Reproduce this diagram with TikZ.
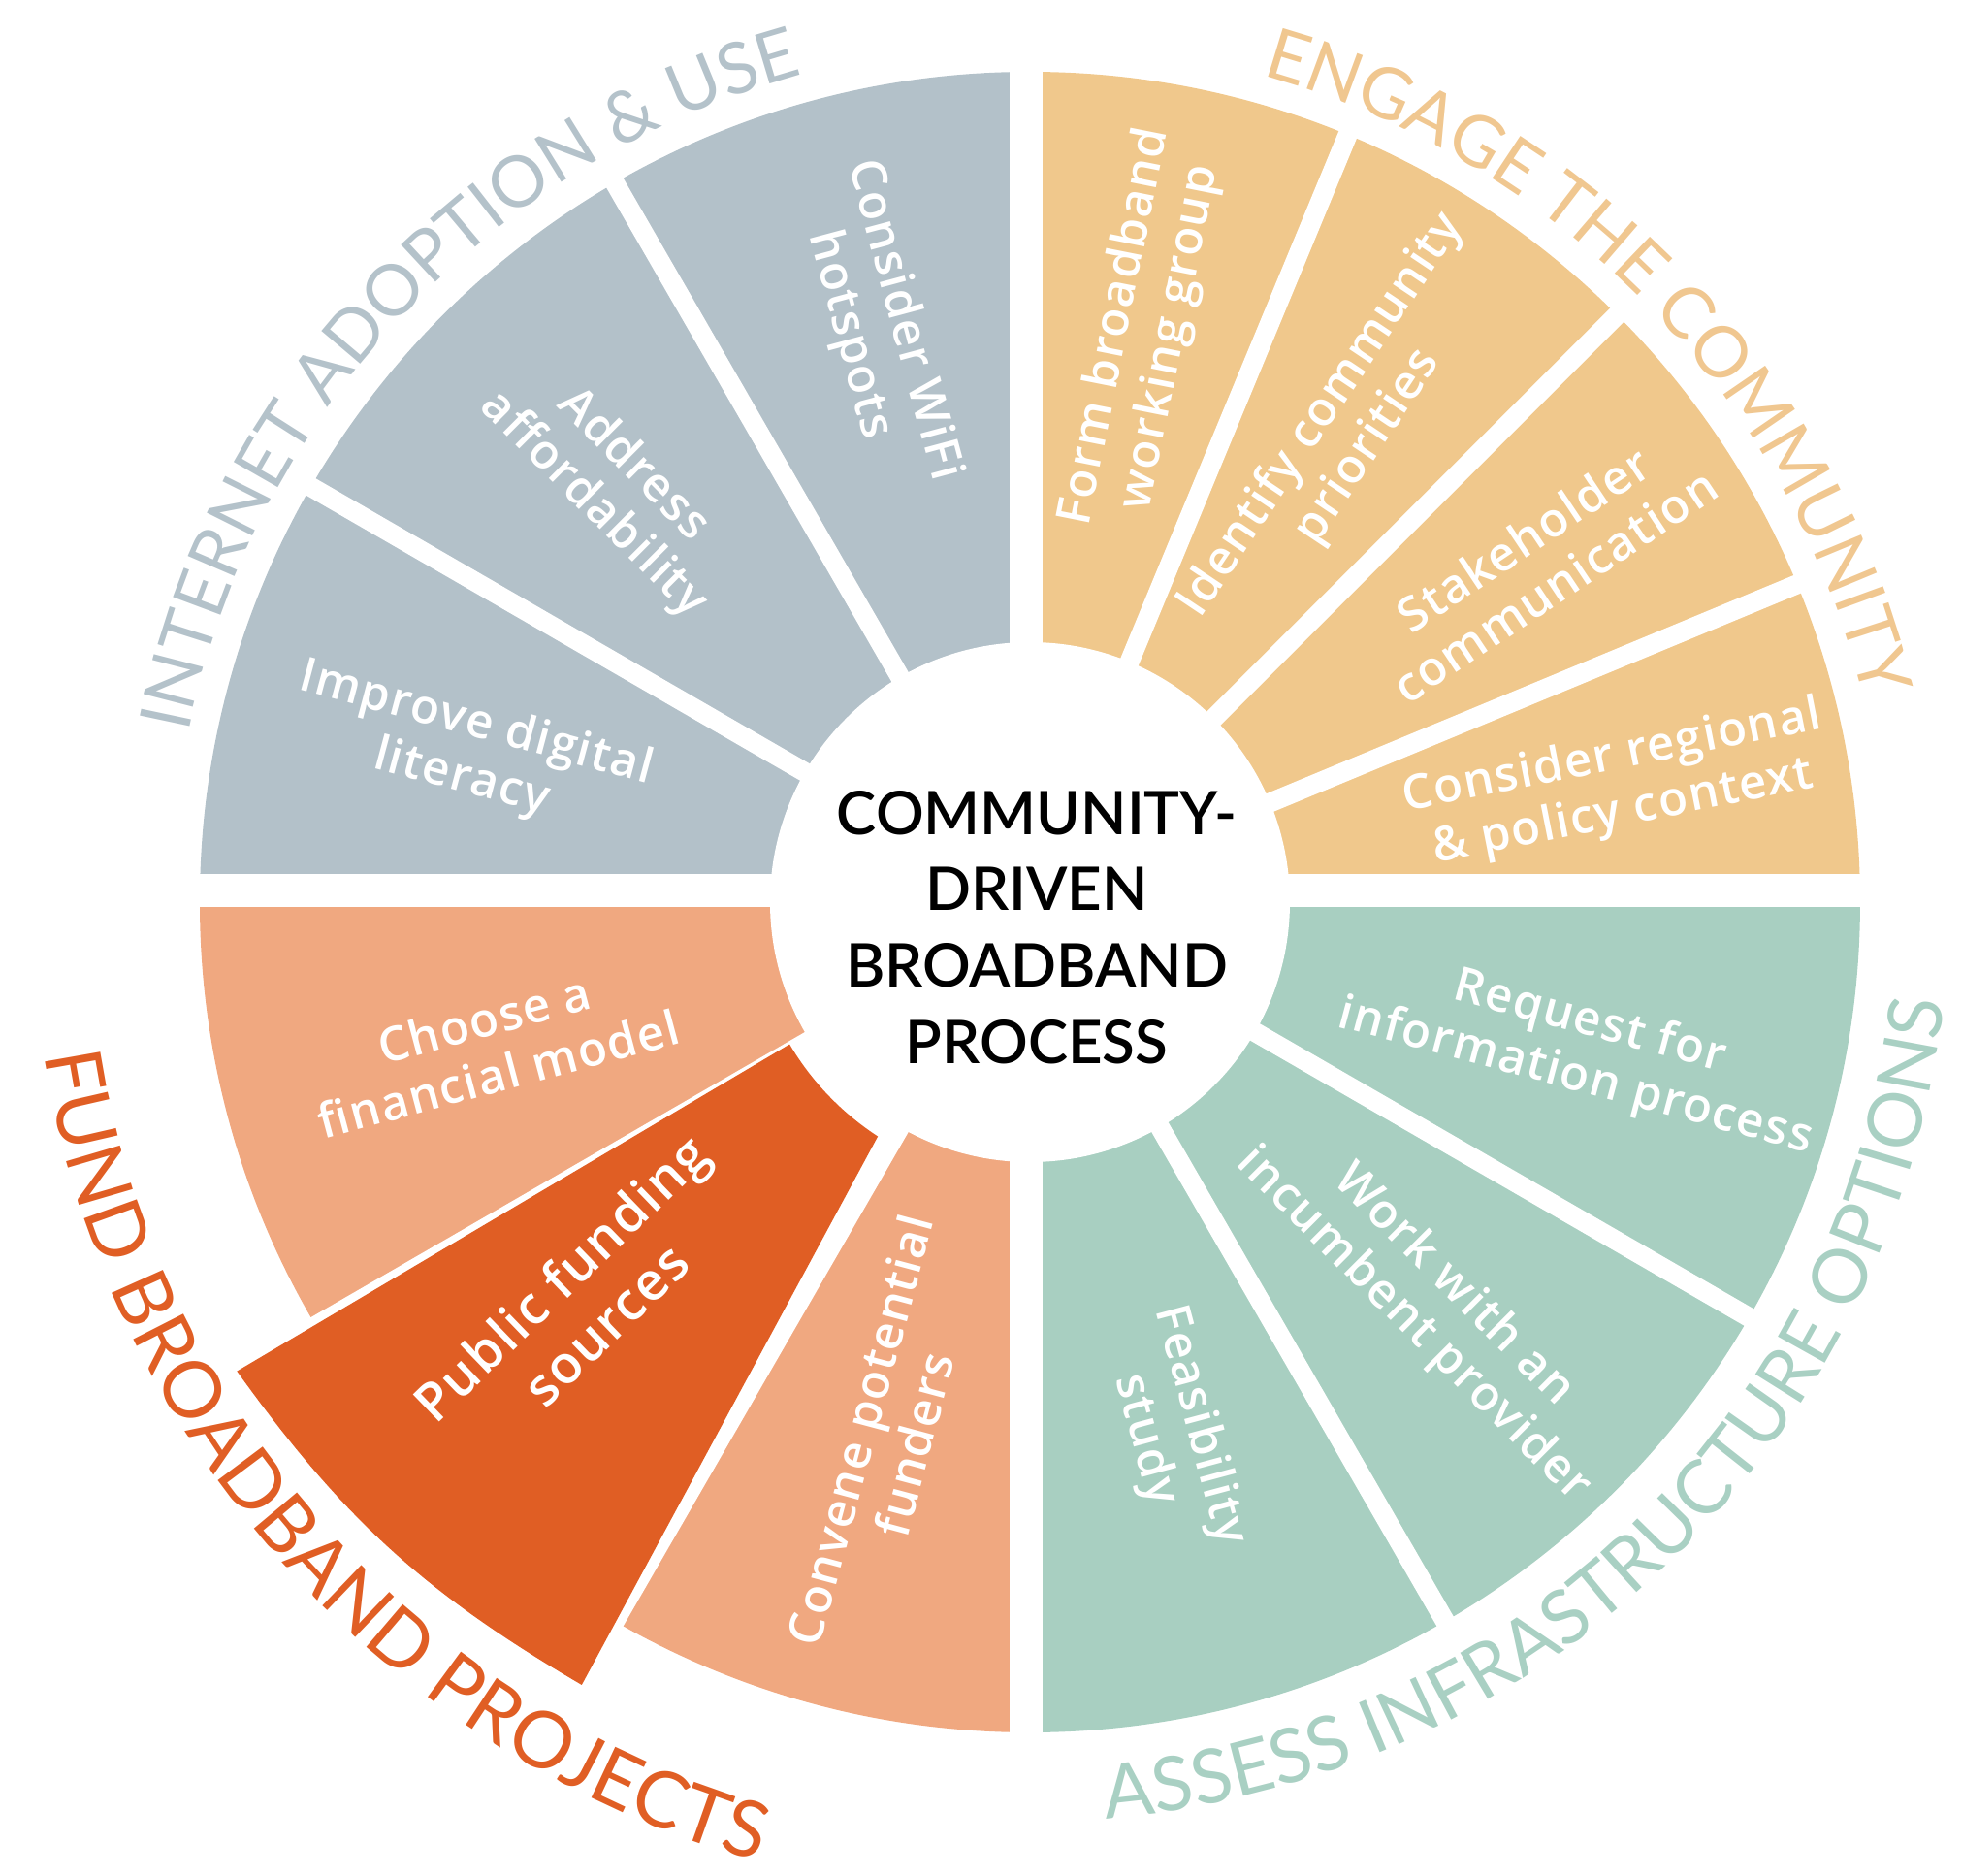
\documentclass[tikz,border=0pt]{standalone}
\usepackage{fontspec}
\setmainfont{Open Sans}
\IfFontExistsTF{Open Sans SemiBold}{\newfontfamily\boxfont{Open Sans SemiBold}[LetterSpace=3]}
   {\IfFontExistsTF{Open Sans Semibold}{\newfontfamily\boxfont{Open Sans Semibold}[LetterSpace=3]}
   {\newfontfamily\boxfont{Open Sans}[FakeBold=2,LetterSpace=3]}}
\newfontfamily\latofont{Lato}
\IfFontExistsTF{Lato Semibold}{\newfontfamily\titlefont{Lato Semibold}}{\newfontfamily\titlefont{Lato}[FakeBold=1.5]}
\usetikzlibrary{decorations.text}

\definecolor{greyc}{HTML}{B3C1C9}
\definecolor{tanc}{HTML}{F0C88C}
\definecolor{tealc}{HTML}{A8CFC1}
\definecolor{salmonc}{HTML}{F0A880}
\definecolor{fundc}{HTML}{E05E24}
\definecolor{greyl}{HTML}{B4C2CA}
\definecolor{tanl}{HTML}{F0C790}
\definecolor{teall}{HTML}{A9D0C3}

\begin{document}
\begin{tikzpicture}[x=1cm,y=1cm,
gapline/.style={white,line width=0.2cm},
quadgap/.style={white,line width=0.34cm},
boxtxt/.style={white,font=\boxfont\fontsize{14}{16.5}\selectfont,align=center,inner sep=0pt},
titletxt/.style={black,font=\titlefont\fontsize{17.6}{22.4}\selectfont,align=center,inner sep=0pt},
arclabel/.style n args={3}{decorate,decoration={text along path,text align=center,
   text={|\latofont\fontsize{#1}{24}\selectfont\color{#2}|#3}}}]
\useasboundingbox (-10.62,-10.04) rectangle (9.61,9.30);
% quadrants and gaps
\foreach \a/\c in {0/tanc,90/greyc,180/salmonc,270/tealc}
   \fill[\c] (0,0) -- (\a:8.56) arc[start angle=\a,end angle=\a+90,radius=8.56] -- cycle;
\fill[white] (0,0) -- (210:9) arc[start angle=210,end angle=240,radius=9] -- cycle;
\foreach \a in {22.5,45,67.5,120,150,240,300,330}
   \draw[gapline] (0,0) -- (\a:8.8);
\draw[quadgap] (-0.035,-8.8) -- (-0.035,8.8);
\draw[quadgap] (-8.8,0.12) -- (8.8,0.12);
\fill[white] (0,0) circle (2.68);
% highlighted step
\fill[fundc] (210.6:2.88) arc[start angle=210.6,end angle=237,radius=2.88]
   -- (240.2:9.3) to[bend left=12] (210.6:9.5) -- cycle;
\node[titletxt] (title) at (0.07,-0.26) {COMMUNITY-\\DRIVEN\\BROADBAND\\PROCESS};
\foreach \nm/\ang/\rad/\rot/\txt in %
{wifi/105/6.13/-75/{Consider WiFi\\hotspots},
 afford/135/6.08/-45/{Address\\affordability},
 literacy/165/5.99/-15/{Improve digital\\literacy},
 group/78.75/5.99/78.75/{Form broadband\\working group},
 priority/56.25/5.84/56.25/{Identify community\\priorities},
 stake/33.75/6.31/33.75/{Stakeholder\\communication},
 policy/11.25/6.18/11.25/{Consider regional\\\& policy context},
 rfi/-15/5.9/-15/{Request for\\information process},
 incumbent/-45/5.88/-45/{Work with an\\incumbent provider},
 study/-75/5.66/-75/{Feasibility\\study},
 funders/255/5.71/75/{Convene potential\\funders},
 model/195/5.75/15/{Choose a\\financial model}} {
   \node[boxtxt,rotate=\rot] (\nm) at (\ang:\rad) {\txt};
}
\node[boxtxt,font=\boxfont\fontsize{15.5}{19}\selectfont,rotate=44] (public) at (221.7:6.18) {Public funding\\sources};
% phase labels round the wheel
\path[arclabel={20.8}{greyl}{INTERNET ADOPTION {\&} USE}] (180:8.85) arc[start angle=180,end angle=94,radius=8.85];
\path[arclabel={20.8}{tanl}{ENGAGE THE COMMUNITY}] (88:8.85) arc[start angle=88,end angle=0,radius=8.85];
\path[arclabel={22}{teall}{ASSESS INFRASTRUCTURE OPTIONS}] (268:9.48) arc[start angle=268,end angle=360.6,radius=9.48];
\path[arclabel={23}{fundc}{FUND BROADBAND PROJECTS}] (180:10.28) arc[start angle=180,end angle=263,radius=10.28];
\end{tikzpicture}
\end{document}
